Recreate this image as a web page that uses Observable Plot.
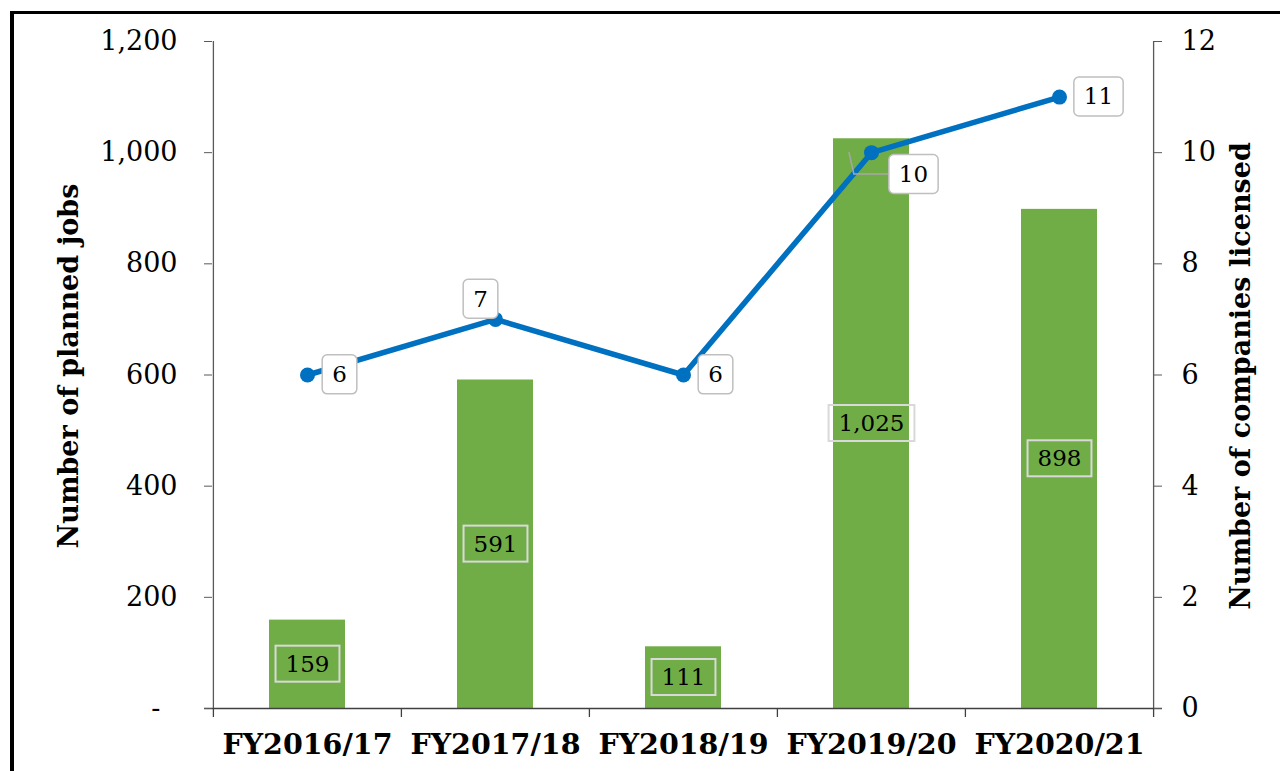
<!DOCTYPE html>
<html><head><meta charset="utf-8">
<script src="https://cdn.jsdelivr.net/npm/d3@7"></script>
<script src="https://cdn.jsdelivr.net/npm/@observablehq/plot@0.6"></script>
<style>
body{margin:0;background:#fff;}
#wrap{position:relative;width:1280px;height:771px;overflow:hidden;}
#chart{position:absolute;left:0;top:0;}
#frame{position:absolute;left:10px;top:11px;width:1400px;height:900px;border-left:4px solid #000;border-top:3px solid #000;pointer-events:none;}
</style></head><body>
<div id="wrap"><div id="chart"></div><div id="frame"></div></div>
<script>
// ---- data ----
const years = ["FY2016/17","FY2017/18","FY2018/19","FY2019/20","FY2020/21"];
const plannedJobs = [159, 591, 111, 1025, 898];
const companiesLicensed = [6, 7, 6, 10, 11];
const jobTicks = [0, 200, 400, 600, 800, 1000, 1200];
const companyTicks = [0, 2, 4, 6, 8, 10, 12];
const leftTitle = "Number of planned jobs";
const rightTitle = "Number of companies licensed";

// ---- layout ----
const W = 1280, H = 771, ML = 212, MR = 127, MT = 41, MB = 63;
const bw = (W - ML - MR) / years.length;
const plotH = H - MT - MB;
const ratio = 1200 / 12; // companies axis -> jobs axis
const companyLabelNudge = [[32,0],[-15,-20],[32,0],[42,22],[39,0]];

const rows = years.map((year, i) => ({year, jobs: plannedJobs[i], companies: companiesLicensed[i]}));
const fmt = d3.format(",");
const axisColor = "#595959";

const lineLabelMarks = companyLabelNudge.map(([dx, dy], i) =>
  Plot.text(rows, {filter: (d, j) => j === i, x: "year", y: d => d.companies * ratio,
    text: d => String(d.companies), dx, dy, fontSize: 23, fill: "#000", className: "line-label"}));

const chart = Plot.plot({
  width: W, height: H, marginLeft: ML, marginRight: MR, marginTop: MT, marginBottom: MB,
  style: {fontFamily: "DejaVu Serif", background: "transparent", color: "#000"},
  x: {domain: years, padding: 0, axis: null},
  y: {domain: [0, 1200], axis: null},
  marks: [
    Plot.barY(rows, {x: "year", y: "jobs", fill: "#70AD47", insetLeft: 56, insetRight: 56}),
    // axis lines
    Plot.ruleX([years[0]], {dx: -bw/2, y1: 0, y2: 1200, stroke: axisColor, strokeWidth: 1.3}),
    Plot.ruleX([years[years.length-1]], {dx: bw/2, y1: 0, y2: 1200, stroke: axisColor, strokeWidth: 1.3}),
    Plot.ruleY([0], {insetLeft: -8, insetRight: -9, stroke: "#404040", strokeWidth: 1.5}),
    Plot.ruleX(years, {dx: -bw/2, insetTop: plotH, insetBottom: -9, stroke: "#404040", strokeWidth: 1.3}),
    Plot.ruleX([years[years.length-1]], {dx: bw/2, insetTop: plotH, insetBottom: -9, stroke: "#404040", strokeWidth: 1.3}),
    Plot.axisY({anchor: "left", ticks: jobTicks, tickSize: 8, tickPadding: 27, fontSize: 27,
      tickFormat: d => d === 0 ? "-\u2007" : fmt(d), stroke: axisColor, label: null}),
    Plot.axisY({anchor: "right", ticks: companyTicks.map(t => t * ratio), tickSize: 8, tickPadding: 20, fontSize: 27,
      tickFormat: d => String(d / ratio), stroke: axisColor, label: null}),
    Plot.axisX({tickSize: 0, tickPadding: 25, fontSize: 28.5, fontWeight: "bold", label: null}),
    Plot.text(rows, {x: "year", y: d => d.jobs / 2, text: d => fmt(d.jobs), fontSize: 23, fill: "#000", className: "bar-label"}),
    Plot.line(rows, {x: "year", y: d => d.companies * ratio, stroke: "#0070C0", strokeWidth: 5.5}),
    Plot.dot(rows, {x: "year", y: d => d.companies * ratio, r: 7.5, fill: "#0070C0"}),
    ...lineLabelMarks,
    Plot.text([leftTitle], {frameAnchor: "left", textAnchor: "middle", dx: -143, dy: -9, rotate: -90, fontSize: 27, fontWeight: "bold", fill: "#000"}),
    Plot.text([rightTitle], {frameAnchor: "right", textAnchor: "middle", dx: 88, dy: 1, rotate: -90, fontSize: 27, fontWeight: "bold", fill: "#000"})
  ]
});
document.getElementById("chart").append(chart);

// ---- label boxes ----
const NS = "http://www.w3.org/2000/svg";
function boxify(cls, padX, padY, attrs) {
  const texts = chart.querySelectorAll(`.${cls} text, text.${cls}`);
  texts.forEach((t, k) => {
    const b = t.getBBox();
    const r = document.createElementNS(NS, "rect");
    r.setAttribute("x", b.x - padX);
    r.setAttribute("y", b.y - padY);
    r.setAttribute("width", b.width + 2 * padX);
    r.setAttribute("height", b.height + 2 * padY);
    for (const [a, v] of Object.entries(attrs)) r.setAttribute(a, v);
    const tr = t.getAttribute("transform");
    if (tr) r.setAttribute("transform", tr);
    t.parentNode.insertBefore(r, t);
    if (cls === "line-label" && k === 3) {
      const [dx, dy] = companyLabelNudge[3];
      const p = document.createElementNS(NS, "path");
      const cy = b.y + b.height / 2;
      p.setAttribute("d", `M${b.x - padX - dx + 2},${cy - dy}L${b.x - padX - dx + 7},${cy}L${b.x - padX},${cy}`);
      p.setAttribute("fill", "none");
      p.setAttribute("stroke", "#a6a6a6");
      p.setAttribute("stroke-width", "1.5");
      if (tr) p.setAttribute("transform", tr);
      t.parentNode.insertBefore(p, r);
    }
  });
}
boxify("bar-label", 10, 5, {fill: "none", stroke: "#d9d9d9", "stroke-width": 2});
boxify("line-label", 10, 6.5, {fill: "#fff", stroke: "#bfbfbf", "stroke-width": 1.5, rx: 5});
</script>
</body></html>
